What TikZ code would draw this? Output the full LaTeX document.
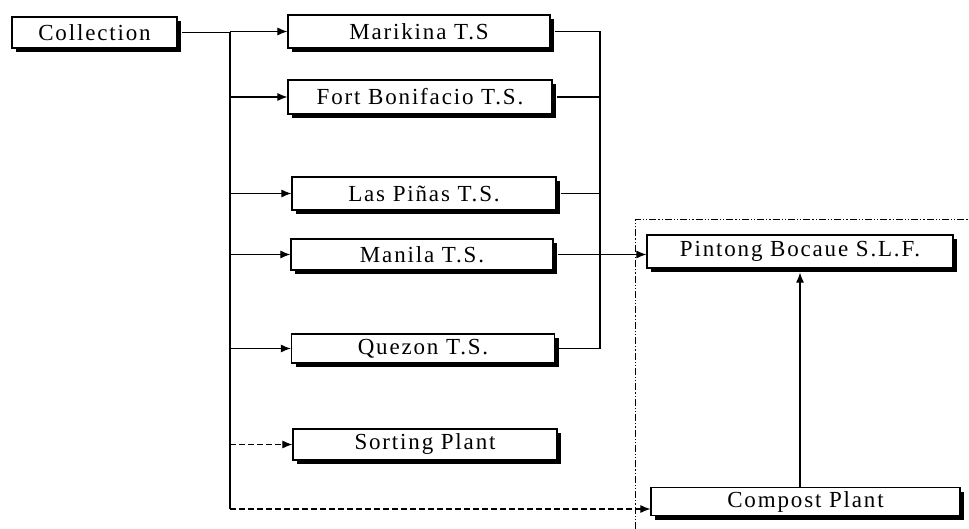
\documentclass[tikz,border=0pt]{standalone}
\usepackage{fontspec}
\setmainfont{Liberation Serif}[LetterSpace=8]
\usetikzlibrary{arrows.meta,shadows}
\begin{document}
\begin{tikzpicture}[x=1pt,y=-1pt,
  box/.style={draw=black, line width=1.2pt, fill=white, inner sep=0pt,
    font=\fontsize{23}{25}\selectfont,
    drop shadow={shadow xshift=4pt, shadow yshift=-4pt, fill=black, opacity=1}},
  conn/.style={line width=1.1pt},
  arr/.style={conn, -{Latex[length=10pt,width=8pt]}},
  dsh/.style={dash pattern=on 6pt off 3pt},
  frame/.style={line width=1pt, dash pattern=on 7pt off 2pt on 1.2pt off 2pt on 1.2pt off 2pt}]
\useasboundingbox (0,0) rectangle (969,529);
\fill[white] (0,0) rectangle (969,529);

\node[box, minimum width=165pt, minimum height=31pt] (coll) at (94.5,32.5) {Collection};
\node[box, minimum width=262pt, minimum height=33pt] (mar) at (419,31.5) {Marikina T.S};
\node[box, minimum width=264pt, minimum height=34pt] (fort) at (420,97) {Fort Bonifacio T.S.};
\node[box, minimum width=264pt, minimum height=33pt] (las) at (424,193.5) {Las Piñas T.S.};
\node[box, minimum width=262pt, minimum height=31pt] (man) at (422,254.5) {Manila T.S.};
\node[box, minimum width=263pt, minimum height=29pt] (quez) at (423,348.5) {Quezon T.S.};
\node[box, minimum width=264pt, minimum height=31pt] (sort) at (425,444.5) {Sorting Plant};
\node[box, minimum width=306pt, minimum height=33pt] (pint) at (800,251.5) {Pintong Bocaue S.L.F.};
\node[box, minimum width=309pt, minimum height=28pt] (comp) at (805.5,501.5) {Compost Plant};

\coordinate (trunk) at (230,0);
\coordinate (tbot) at (230,509);
\coordinate (col) at (600,0);
\coordinate (fa) at (635,529);
\coordinate (fb) at (635,220);
\coordinate (fc) at (969,220);

% frame
\draw[frame] (fa) -- (fb) -- (fc);

% trunk
\draw[conn] ([xshift=4pt]coll.east) -- (trunk |- coll.east) -- (tbot);
\draw[arr] (trunk |- mar.west) -- (mar.west);
\draw[arr] (trunk |- fort.west) -- (fort.west);
\draw[arr] (trunk |- las.west) -- (las.west);
\draw[arr] (trunk |- man.west) -- (man.west);
\draw[arr] (trunk |- quez.west) -- (quez.west);
\draw[arr, dsh] (trunk |- sort.west) -- (sort.west);
\draw[arr, dsh] (tbot) -- (tbot -| comp.west);

% collector
\draw[conn] ([xshift=4pt]mar.east) -- (col |- mar.east) -- (col |- quez.east) -- ([xshift=4pt]quez.east);
\draw[conn] ([xshift=4pt]fort.east) -- (col |- fort.east);
\draw[conn] ([xshift=4pt]las.east) -- (col |- las.east);
\draw[arr] ([xshift=4pt]man.east) -- (man.east -| pint.west);

% compost to landfill
\draw[arr] (comp.north -| pint.south) -- ([yshift=-4pt]pint.south);
\end{tikzpicture}
\end{document}
